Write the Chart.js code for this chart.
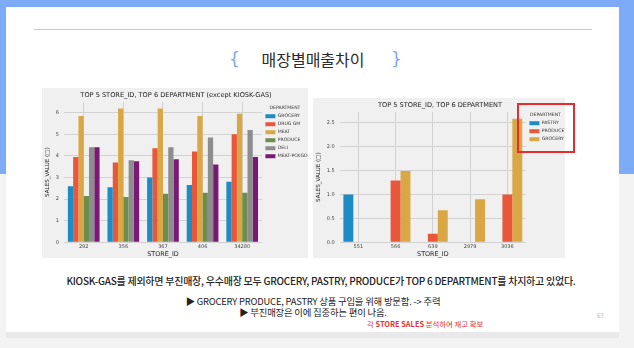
<!DOCTYPE html>
<html>
<head>
<meta charset="utf-8">
<script src="https://cdn.jsdelivr.net/npm/chart.js@4"></script>
<style>
  html, body { margin: 0; padding: 0; }
  body { width: 634px; height: 348px; background: #f3f3f3; position: relative; overflow: hidden;
         font-family: "Noto Sans CJK KR", "Noto Sans", sans-serif; }
  .abs { position: absolute; }
  #blue { left: 0; top: 0; width: 634px; height: 174px; background: #7eabf7; }
  #card { left: 6px; top: 7px; width: 613px; height: 325px; background: #fff; }
  #strip { left: 6px; top: 332px; width: 613px; height: 6px; background: #e9e9e9; }
  #rule { left: 34px; top: 29px; width: 558px; height: 1px; background: #c9c9c9; }
  #title { left: 0; top: 47px; width: 626px; text-align: center; font-size: 16px; color: #2a2a2a; }
  .brace { color: #7ea6ee; font-size: 17px; top: 49px; font-family: "DejaVu Sans", sans-serif; }
  #panelL { left: 42px; top: 88px; width: 266px; height: 170px; background: #f0f0f0; }
  #panelR { left: 313px; top: 98px; width: 252px; height: 160px; background: #f0f0f0; }
  #redbox { left: 517px; top: 103px; width: 54px; height: 46px; border: 2px solid #ea2a2e; }
  .txt { text-align: center; color: #222; white-space: nowrap; }
  #t1 { left: 0; top: 273px; width: 642px; font-size: 10px; font-weight: 500; letter-spacing: -0.25px; }
  #t2 { left: 0; top: 294px; width: 626px; font-size: 9.4px; letter-spacing: -0.2px; }
  #t3 { left: 0; top: 305px; width: 626px; font-size: 9.4px; letter-spacing: -0.2px; }
  #t4 { left: 367px; top: 318px; font-size: 7.4px; color: #e8302e; white-space: nowrap; }
  #pg { left: 597px; top: 311px; font-size: 6px; color: #bbb; }
</style>
</head>
<body>
<div id="blue" class="abs"></div>
<div id="card" class="abs"></div>
<div id="strip" class="abs"></div>
<div id="rule" class="abs"></div>
<div class="abs brace" style="left:229px">{</div>
<div class="abs brace" style="left:391px">}</div>
<div id="title" class="abs">매장별매출차이</div>
<div id="panelL" class="abs"><canvas id="chartL" width="266" height="170"></canvas></div>
<div id="panelR" class="abs"><canvas id="chartR" width="252" height="160"></canvas></div>
<div id="redbox" class="abs"></div>
<div id="t1" class="abs txt">KIOSK-GAS를 제외하면 부진매장, 우수매장 모두 GROCERY, PASTRY, PRODUCE가 TOP 6 DEPARTMENT를 차지하고 있었다.</div>
<div id="t2" class="abs txt">▶ GROCERY PRODUCE, PASTRY 상품 구입을 위해 방문함. -&gt; 주력</div>
<div id="t3" class="abs txt">▶ 부진매장은 이에 집중하는 편이 나음.</div>
<div id="t4" class="abs">각 <b>STORE SALES</b> 분석하여 재고 확보</div>
<div id="pg" class="abs">63</div>
<script>
// left chart: top 5 stores, 6 departments (except KIOSK-GAS)
const leftStores = ['292', '356', '367', '406', '34280'];
const leftDepts = ['GROCERY', 'DRUG GM', 'MEAT', 'PRODUCE', 'DELI', 'MEAT-PCKGD'];
const groceryL = [2.6, 2.55, 3.0, 2.65, 2.8];
const drugGm = [3.95, 3.7, 4.35, 4.2, 5.0];
const meat = [5.85, 6.2, 6.2, 5.85, 5.95];
const produceL = [2.15, 2.1, 2.25, 2.3, 2.3];
const deli = [4.4, 3.8, 4.4, 4.85, 5.2];
const meatPckgd = [4.4, 3.75, 3.85, 3.6, 3.95];

// right chart
const rightStores = ['551', '566', '639', '2979', '3036'];
const rightDepts = ['PASTRY', 'PRODUCE', 'GROCERY'];
const pastryR = [1.0, null, null, null, null];
const produceR = [null, 1.29, 0.18, null, 1.0];
const groceryR = [null, 1.49, 0.67, 0.9, 2.58];

const palette = ['#1d8bc6', '#e9573b', '#d9a845', '#6b8e4e', '#8d8d8d', '#7b1875'];
const tickFont = { family: 'DejaVu Sans', size: 5 };
const gridColor = '#d2d2d2';

function makeOptions(title, yMax, stepSize, fmt, legendTop, legendWidth) {
    return {
        responsive: false,
        animation: false,
        layout: { padding: { left: 2, right: 0, top: 0, bottom: 0 } },
        plugins: {
            title: {
                display: true, text: title, color: '#222',
                font: { family: 'DejaVu Sans', size: 6.6, weight: 'normal' },
                padding: { top: 3, bottom: 3 }
            },
            legend: {
                position: 'right', align: 'start', maxWidth: legendWidth,
                title: {
                    display: true, text: 'DEPARTMENT', color: '#333',
                    font: { family: 'DejaVu Sans', size: 4.6 }, padding: { top: legendTop, bottom: 0 }
                },
                labels: {
                    boxWidth: 10, boxHeight: 4, padding: 3.4, color: '#333',
                    font: { family: 'DejaVu Sans', size: 4.6 }
                }
            },
            tooltip: { enabled: false }
        },
        scales: {
            x: {
                grid: { color: gridColor, offset: false, drawTicks: false },
                border: { display: false },
                ticks: { font: tickFont, color: '#444', padding: 1 },
                title: { display: true, text: 'STORE_ID', color: '#222',
                         font: { family: 'DejaVu Sans', size: 6.4 }, padding: 0 }
            },
            y: {
                min: 0, max: yMax,
                grid: { color: gridColor, drawTicks: false },
                border: { display: false },
                ticks: { stepSize: stepSize, includeBounds: false, font: tickFont, color: '#444', padding: 5,
                         callback: v => fmt(v) },
                title: { display: true, text: 'SALES_VALUE (□)', color: '#222',
                         font: { family: 'DejaVu Sans', size: 5.6 }, padding: 0 }
            }
        }
    };
}

const leftSeries = [groceryL, drugGm, meat, produceL, deli, meatPckgd];
new Chart(document.getElementById('chartL'), {
    type: 'bar',
    data: {
        labels: leftStores,
        datasets: leftDepts.map((d, i) => ({
            label: d, data: leftSeries[i], backgroundColor: palette[i],
            barPercentage: 1, categoryPercentage: 0.8
        }))
    },
    options: makeOptions('TOP 5 STORE_ID, TOP 6 DEPARTMENT (except KIOSK-GAS)', 6.5, 1, v => v, 17, 46)
});

const rightSeries = [pastryR, produceR, groceryR];
new Chart(document.getElementById('chartR'), {
    type: 'bar',
    data: {
        labels: rightStores,
        datasets: rightDepts.map((d, i) => ({
            label: d, data: rightSeries[i], backgroundColor: palette[i],
            barPercentage: 1, categoryPercentage: 0.8
        }))
    },
    options: makeOptions('TOP 5 STORE_ID, TOP 6 DEPARTMENT', 2.72, 0.5, v => v.toFixed(1), 14, 39)
});
</script>
</body>
</html>
